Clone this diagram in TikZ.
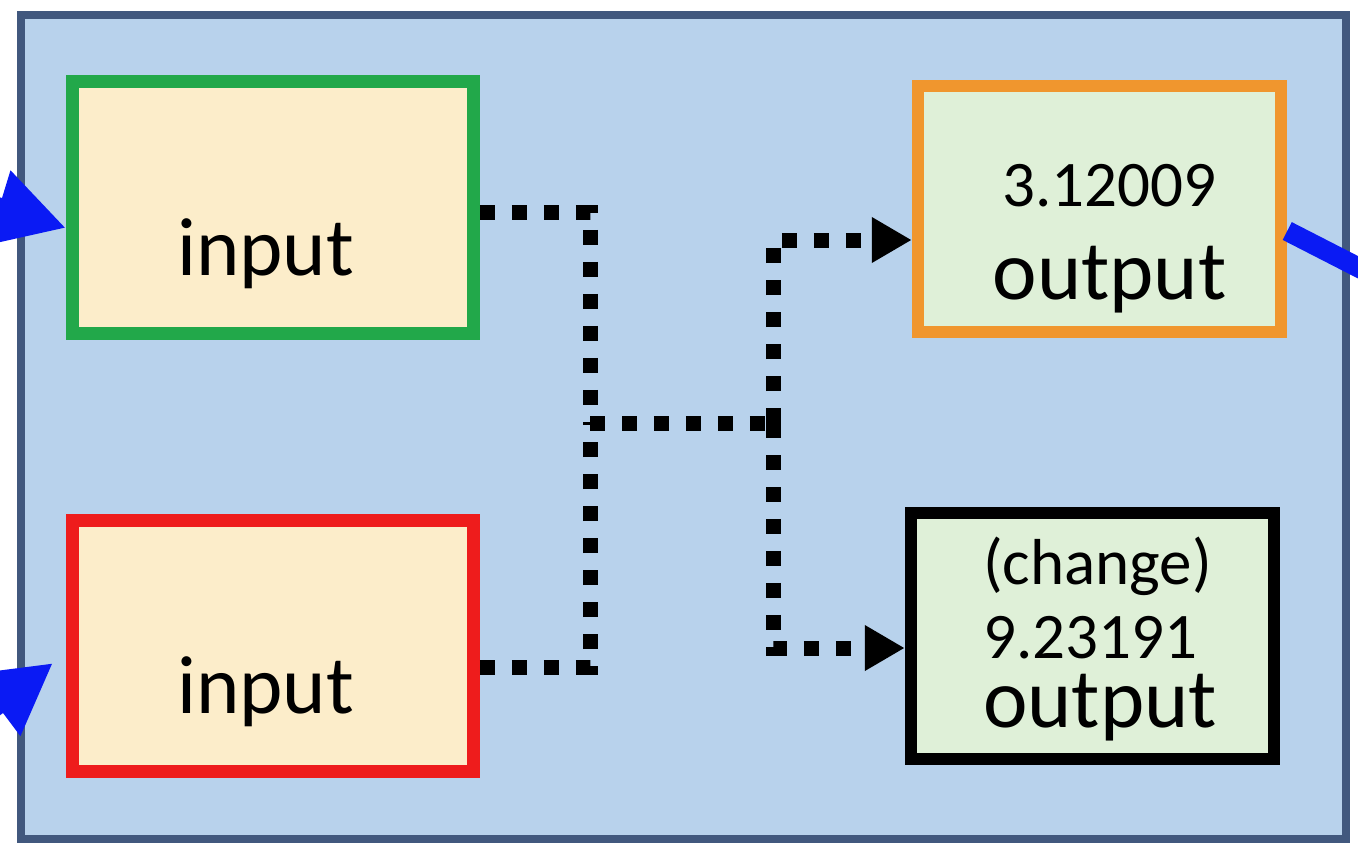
\documentclass[tikz,border=0pt]{standalone}
\usepackage{fontspec}
\setmainfont{Carlito}
\usetikzlibrary{arrows.meta}

\definecolor{panelfill}{HTML}{B8D2EC}
\definecolor{paneledge}{HTML}{41587E}
\definecolor{creamfill}{HTML}{FCEDCA}
\definecolor{mintfill}{HTML}{DFF0D8}
\definecolor{ingreen}{HTML}{22A84A}
\definecolor{inred}{HTML}{EE1C1C}
\definecolor{outorange}{HTML}{F0962E}
\definecolor{feedblue}{HTML}{0A1AF4}

\tikzstyle{panel} = [draw=paneledge, fill=panelfill, line width=0.16cm, inner sep=0pt]
\tikzstyle{inbox} = [fill=creamfill, line width=0.26cm, minimum width=8.02cm, minimum height=5.04cm, inner sep=0pt, font=\fontsize{47}{56}\selectfont, text height=2.7cm, text depth=0pt]
\tikzstyle{outbox} = [fill=mintfill, line width=0.25cm, minimum width=7.26cm, minimum height=4.92cm, inner sep=0pt, font=\fontsize{37}{44}\selectfont]
\tikzstyle{wire} = [line width=0.3cm, dash pattern=on 0.3cm off 0.34cm]
\tikzstyle{feed} = [draw=feedblue, line width=0.4cm]

\begin{document}
\begin{tikzpicture}[x=0.02cm, y=-0.02cm, >={Triangle[length=0.8cm, width=0.86cm]}]
\useasboundingbox (0,0) rectangle (1358,850);
\clip (0,0) rectangle (1358,850);

\node [panel, minimum width=26.5cm, minimum height=16.48cm] (panel) at (683.5,427) {};

\foreach \m/\col/\y in {1/ingreen/207.5, 2/inred/646}
  \node [inbox, draw=\col] (in-\m) at (273,\y) {input\hspace*{0.3cm}};

\node [outbox, draw=outorange, align=center] (out-1) at (1099.5,209)
  {\\[14pt]\hspace*{0.4cm}3.12009\\[9pt]\hspace*{0.4cm}{\fontsize{48}{44}\selectfont output}};
\node [outbox, draw=black, align=left, text height=3.99cm, text depth=0.35cm] (out-2) at (1092.5,636)
  {\hspace*{0.3cm}(change)\\[-2pt]\hspace*{0.3cm}9.23191\\[-5pt]\hspace*{0.3cm}{\fontsize{48}{44}\selectfont output}};

% dotted links
\coordinate (split) at (590,423);
\coordinate (merge) at (773,423);

\draw [wire] ([yshift=-0.09cm]in-1.east) -| (split);
\draw [wire] ([yshift=-0.42cm]in-2.east) -| (split);
\draw [wire] (split) -- (merge);
\draw [wire, ->] (merge) |- ([yshift=-0.62cm]out-1.west);
\draw [wire, ->] (merge) |- ([yshift=-0.24cm]out-2.west);

% blue feeds
\coordinate (feed-1) at (-222,140);
\coordinate (feed-2) at (-187,843);
\coordinate (drain) at (1500,340);

\foreach \i/\dx/\dy in {1/0/-0.41, 2/-0.26/-0.34}
  \draw [feed, -{Triangle[length=1.4cm, width=1.45cm]}] (feed-\i)
    -- ([xshift=\dx cm, yshift=\dy cm]in-\i.west);

\draw [feed] ([yshift=-0.44cm]out-1.east) -- (drain);

\end{tikzpicture}
\end{document}
